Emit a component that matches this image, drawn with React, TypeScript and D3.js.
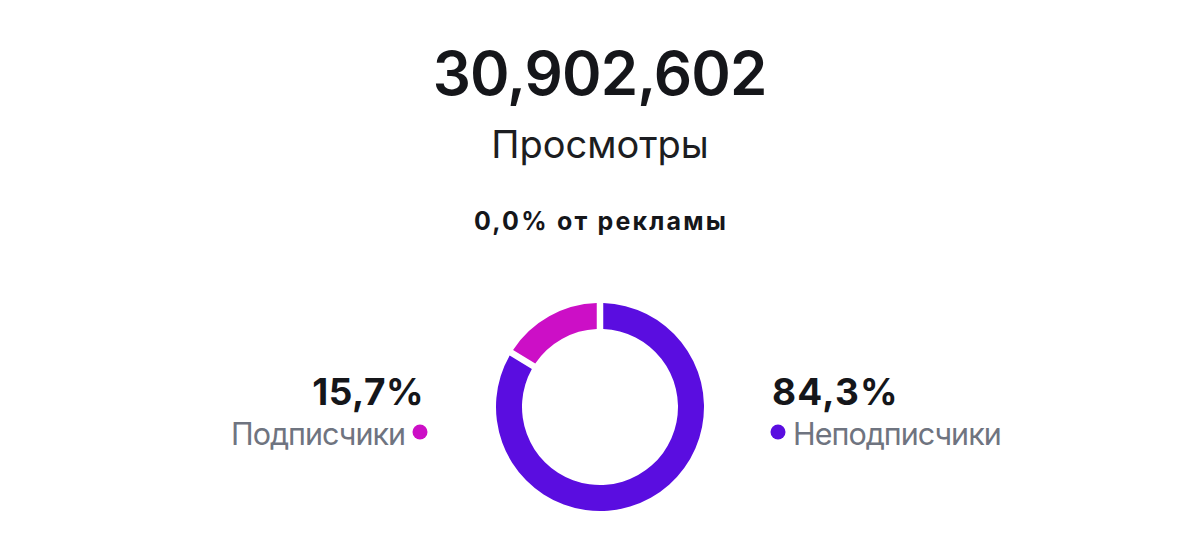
import React from "react";
import * as d3 from "d3";

const totalViews = "30,902,602";
const totalLabel = "Просмотры";
const adShare = "0,0% от рекламы";
const segmentNames = ["Неподписчики", "Подписчики"];
const segmentValues = [84.3, 15.7];
const segmentLabels = ["84,3%", "15,7%"];
const segmentColors = ["#5a0de0", "#cc0fc6"];

const W = 1200;
const H = 558;
const FONT = "Inter, 'Noto Sans', sans-serif";

export default function App() {
  const cx = 600;
  const cy = 407;
  const outerR = 104;
  const innerR = 78;
  const pie = d3
    .pie<number>()
    .sort(null)
    .value((d) => d)
    .padAngle(0.05);
  const arcs = pie(segmentValues);
  const arcGen = d3
    .arc<d3.PieArcDatum<number>>()
    .innerRadius(innerR)
    .outerRadius(outerR);

  return (
    <svg
      width={W}
      height={H}
      style={{ position: "absolute", left: 0, top: 0, background: "#fff" }}
    >
      <text
        x={cx - 0.45}
        y={95}
        textAnchor="middle"
        fontFamily={FONT}
        fontWeight={600}
        fontSize={60}
        letterSpacing={-0.9}
        fill="#15161a"
      >
        {totalViews}
      </text>
      <text
        x={cx}
        y={158}
        textAnchor="middle"
        fontFamily={FONT}
        fontWeight={400}
        fontSize={38}
        fill="#1c1d21"
      >
        {totalLabel}
      </text>
      <text
        x={cx + 1.1}
        y={230}
        textAnchor="middle"
        fontFamily={FONT}
        fontWeight={700}
        fontSize={25}
        letterSpacing={2.2}
        fill="#15161a"
      >
        {adShare}
      </text>
      <g transform={`translate(${cx},${cy})`}>
        {arcs.map((a, i) => (
          <path key={i} d={arcGen(a) || ""} fill={segmentColors[i]} />
        ))}
      </g>
      {/* right: non-subscribers */}
      <text
        x={772}
        y={405}
        fontFamily={FONT}
        fontWeight={700}
        fontSize={37}
        letterSpacing={1.2}
        fill="#15161a"
      >
        {segmentLabels[0]}
      </text>
      <circle cx={778} cy={432} r={7.5} fill={segmentColors[0]} />
      <text
        x={793}
        y={445}
        fontFamily={FONT}
        fontWeight={400}
        fontSize={30.5}
        letterSpacing={-1}
        fill="#6f7480"
      >
        {segmentNames[0]}
      </text>
      {/* left: subscribers */}
      <text
        x={424}
        y={405}
        textAnchor="end"
        fontFamily={FONT}
        fontWeight={700}
        fontSize={37}
        letterSpacing={0.5}
        fill="#15161a"
      >
        {segmentLabels[1]}
      </text>
      <circle cx={420} cy={432} r={7.5} fill={segmentColors[1]} />
      <text
        x={405}
        y={445}
        textAnchor="end"
        fontFamily={FONT}
        fontWeight={400}
        fontSize={30.5}
        letterSpacing={-1}
        fill="#6f7480"
      >
        {segmentNames[1]}
      </text>
    </svg>
  );
}
